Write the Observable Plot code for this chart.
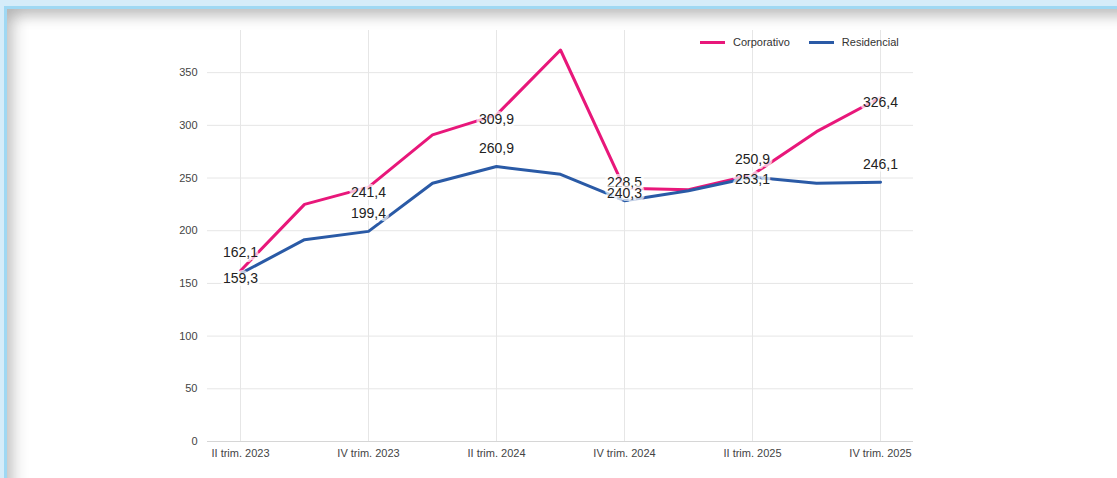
<!DOCTYPE html>
<html>
<head>
<meta charset="utf-8">
<script src="https://cdn.jsdelivr.net/npm/d3@7"></script>
<script src="https://cdn.jsdelivr.net/npm/@observablehq/plot@0.6"></script>
<style>
  html, body { margin: 0; padding: 0; width: 1117px; height: 478px; overflow: hidden; background: #d5ecf9; font-family: "Liberation Sans", Arial, sans-serif; }
  #panel { position: absolute; left: 4px; top: 6px; width: 1140px; height: 520px; background: #fff; border-top: 3px solid #9fd8f3; border-left: 3px solid #9fd8f3; box-shadow: inset 0 8px 14px rgba(0,0,0,0.20), inset 10px 0 14px rgba(0,0,0,0.12); }
  #chart { position: absolute; left: 0; top: 0; }
  #legend { position: absolute; left: 700px; top: 36px; font-size: 11px; color: #333; display: flex; align-items: center; }
  #legend .sw { display: inline-block; width: 25px; height: 3px; margin-right: 8px; }
  #legend .item { display: flex; align-items: center; margin-right: 19px; }
</style>
</head>
<body>
<div id="panel"></div>
<div id="chart"></div>
<div id="legend"></div>
<script>
const quarters = ["II trim. 2023","III trim. 2023","IV trim. 2023","I trim. 2024","II trim. 2024","III trim. 2024","IV trim. 2024","I trim. 2025","II trim. 2025","III trim. 2025","IV trim. 2025"];
const corporativo = [162.1, 225, 241.4, 291, 309.9, 371.5, 240.3, 239, 253.1, 294, 326.4];
const residencial = [159.3, 191.5, 199.4, 245, 260.9, 253.5, 228.5, 238, 250.9, 245, 246.1];
const tickLabels = ["II trim. 2023","IV trim. 2023","II trim. 2024","IV trim. 2024","II trim. 2025","IV trim. 2025"];
const yTicks = [0, 50, 100, 150, 200, 250, 300, 350];
const seriesNames = ["Corporativo", "Residencial"];
const colors = ["#e8177a", "#2a5aa6"];

const data = [];
seriesNames.forEach((s, si) => {
  const vals = si === 0 ? corporativo : residencial;
  quarters.forEach((q, i) => data.push({serie: s, q, v: vals[i]}));
});
const fmt = v => v.toFixed(1).replace(".", ",");
const labelData = data.filter(d => tickLabels.includes(d.q));
// placement: Residencial labels sit above the point, Corporativo labels centred on it;
// at the first quarter the two are swapped to avoid overlap
const above = d => (d.q === quarters[0]) ? d.serie === "Corporativo" : d.serie === "Residencial";

const chart = Plot.plot({
  width: 1117, height: 478,
  marginLeft: 207, marginRight: 204, marginTop: 30, marginBottom: 37,
  style: {fontFamily: '"Liberation Sans", Arial, sans-serif', fontSize: "11px", color: "#444", background: "transparent"},
  x: {type: "point", domain: quarters, padding: 0.5, label: null},
  y: {domain: [0, 390], label: null},
  color: {domain: seriesNames, range: colors},
  marks: [
    Plot.gridY(yTicks, {stroke: "#e6e6e6", strokeOpacity: 1}),
    Plot.gridX(tickLabels, {stroke: "#e6e6e6", strokeOpacity: 1, y1: 0, y2: 390}),
    Plot.ruleX([0], {x: () => null, frameAnchor: "left", stroke: "#d6d6d6"}),
    Plot.ruleY([0], {stroke: "#d6d6d6"}),
    Plot.axisY({ticks: yTicks, tickSize: 0, tickPadding: 10, fill: "#444"}),
    Plot.axisX({ticks: tickLabels, tickSize: 0, tickPadding: 8, fill: "#444"}),
    Plot.line(data, {x: "q", y: "v", z: "serie", stroke: "serie", strokeWidth: 3, curve: "linear"}),
    Plot.text(labelData.filter(d => above(d)), {x: "q", y: "v", text: d => fmt(d.v), dy: -18, fontSize: 14, fill: "#222", stroke: "white", strokeOpacity: 0.7, strokeWidth: 6}),
    Plot.text(labelData.filter(d => !above(d)), {x: "q", y: "v", text: d => fmt(d.v), dy: 5, fontSize: 14, fill: "#222", stroke: "white", strokeOpacity: 0.7, strokeWidth: 6})
  ]
});
document.getElementById("chart").appendChild(chart);

const legend = document.getElementById("legend");
seriesNames.forEach((s, i) => {
  const it = document.createElement("div");
  it.className = "item";
  it.innerHTML = `<span class="sw" style="background:${colors[i]}"></span><span>${s}</span>`;
  legend.appendChild(it);
});
</script>
</body>
</html>
